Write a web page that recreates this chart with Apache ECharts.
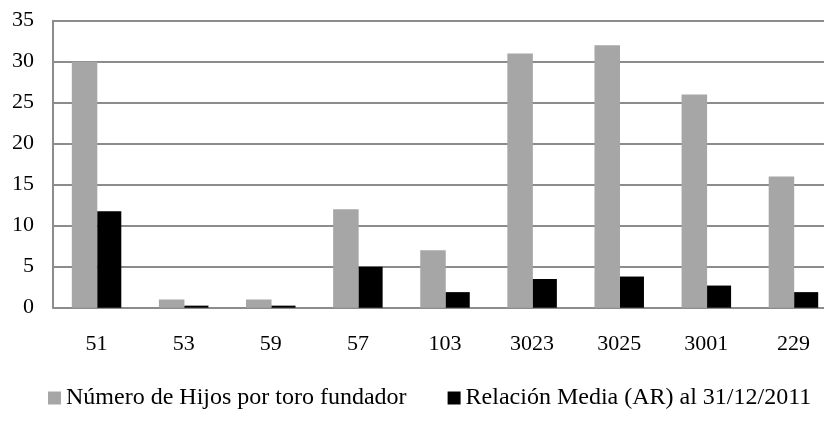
<!DOCTYPE html>
<html>
<head>
<meta charset="utf-8">
<script src="https://cdn.jsdelivr.net/npm/echarts@6/dist/echarts.min.js"></script>
<style>
html,body{margin:0;padding:0;background:#fff;overflow:hidden;width:824px;height:423px;}
#chart{width:840px;height:423px;}
</style>
</head>
<body>
<div id="chart"></div>
<script>
var categories = ['51','53','59','57','103','3023','3025','3001','229'];
var hijos = [30, 1, 1, 12, 7, 31, 32, 26, 16];
var relacion = [11.75, 0.25, 0.25, 5.0, 1.9, 3.5, 3.8, 2.7, 1.9];
var seriesNames = ['Número de Hijos por toro fundador', 'Relación Media (AR) al 31/12/2011'];

var FONT = '"Liberation Serif", "Times New Roman", serif';
var chart = echarts.init(document.getElementById('chart'), null, {renderer:'canvas'});
chart.setOption({
  animation: false,
  backgroundColor: '#ffffff',
  grid: {left: 53, top: 20.7, width: 784, height: 287, containLabel: false},
  legend: {
    top: 381,
    left: 43,
    itemWidth: 13,
    itemHeight: 13,
    itemGap: 41,
    icon: 'rect',
    textStyle: {fontFamily: FONT, fontSize: 24, color: '#000'},
    data: seriesNames
  },
  xAxis: {
    type: 'category',
    data: categories,
    axisLine: {show: true, lineStyle: {color: '#8c8c8c', width: 2}},
    axisTick: {show: false},
    axisLabel: {fontFamily: FONT, fontSize: 22, color: '#000', margin: 26},
    splitLine: {show: false}
  },
  yAxis: {
    type: 'value',
    min: 0, max: 35, interval: 5,
    axisLine: {show: true, lineStyle: {color: '#8c8c8c', width: 2}},
    axisTick: {show: false},
    axisLabel: {fontFamily: FONT, fontSize: 22, color: '#000', margin: 19},
    splitLine: {show: true, lineStyle: {color: '#8c8c8c', width: 2}}
  },
  series: [
    {name: seriesNames[0], type: 'bar', data: hijos, barWidth: 25.5, barGap: '0%',
     itemStyle: {color: '#a6a6a6'}},
    {name: seriesNames[1], type: 'bar', data: relacion, barWidth: 24,
     itemStyle: {color: '#000000'}}
  ]
});
</script>
</body>
</html>
